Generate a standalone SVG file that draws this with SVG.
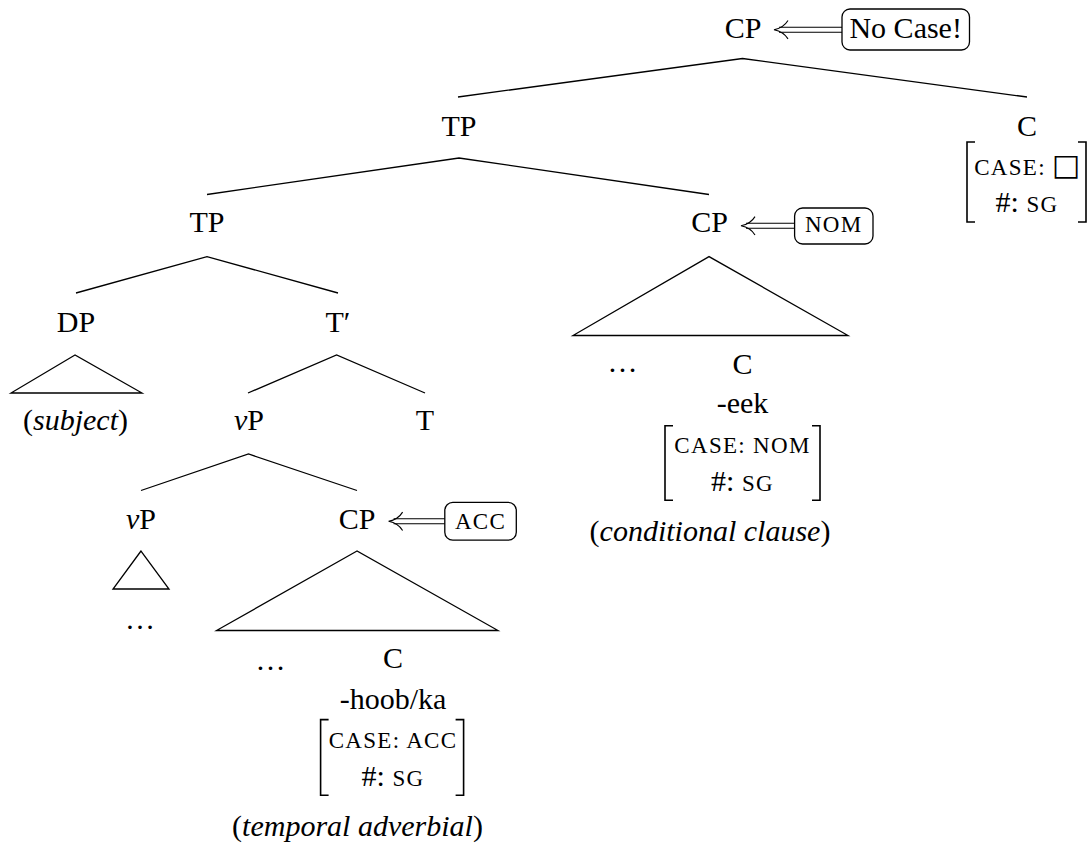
<svg xmlns="http://www.w3.org/2000/svg" width="1088" height="847" viewBox="0 0 1088 847" font-family="Liberation Serif">
<style>
  text { font-size: 30px; fill: #000; text-anchor: middle; }
  .it { font-style: italic; }
  .sc { font-size: 23px; letter-spacing: 1.3px; }
  .edge { stroke: #000; stroke-width: 1.3; fill: none; }
  .tri { stroke: #000; stroke-width: 1.3; fill: none; stroke-linejoin: miter; }
  .brk { stroke: #000; stroke-width: 1.6; fill: none; }
  .box { stroke: #000; stroke-width: 1.3; fill: #fff; }
  .dbl { stroke: #000; stroke-width: 1.1; fill: none; }
</style>
<rect x="0" y="0" width="1088" height="847" fill="#fff"/>

<g id="connectors">
  <polyline class="edge" points="458,97 742.5,58.5 1027,97"/>
  <polyline class="edge" points="207,194.5 459,158 709,194.5"/>
  <polyline class="edge" points="76,293 207,256.6 338,293"/>
  <polyline class="edge" points="248,393 336.6,355 425,393"/>
  <polyline class="edge" points="141,490.5 248.5,454 357,490.5"/>
  <polygon class="tri" points="75,355 11,393 142,393"/>
  <polygon class="tri" points="709,256.6 573,335.5 848,335.5"/>
  <polygon class="tri" points="141,551 113,589 169,589"/>
  <polygon class="tri" points="357,551 216.5,630.5 498,630.5"/>
  <g id="arrow-nocase">
    <path class="dbl" d="M779,27.2 H842 M779,32.2 H842"/>
    <path class="dbl" d="M788,20.5 C785,25.5 780,28.5 774,29.7 C780,30.9 785,33.9 788,38.9"/>
  </g>
  <g id="arrow-nom">
    <path class="dbl" d="M746,223.3 H795 M746,228.3 H795"/>
    <path class="dbl" d="M755,216.6 C752,221.6 747,224.6 741,225.8 C747,227 752,230 755,235"/>
  </g>
  <g id="arrow-acc">
    <path class="dbl" d="M393.6,518.8 H445 M393.6,523.8 H445"/>
    <path class="dbl" d="M402.6,512.1 C399.6,517.1 394.6,520.1 388.6,521.3 C394.6,522.5 399.6,525.5 402.6,530.5"/>
  </g>
</g>

<g id="node-cp-top">
  <text x="743" y="37.5" font-family="Liberation Serif">CP</text>
</g>
<g id="node-nocase">
  <rect class="box" x="842" y="9" width="127.5" height="41" rx="8"/>
  <text x="905.7" y="38" font-family="Liberation Serif">No Case!</text>
</g>
<g id="node-tp1">
  <text x="459" y="135.5" font-family="Liberation Serif">TP</text>
</g>
<g id="node-c-top">
  <text x="1027" y="135.5" font-family="Liberation Serif">C</text>
  <path class="brk" d="M975,142 H967 V222 H975"/>
  <path class="brk" d="M1078,142 H1086 V222 H1078"/>
  <text x="1010" y="174.5" class="sc" font-family="Liberation Serif">CASE:</text>
  <text x="1066" y="174.5" font-family="DejaVu Sans" font-size="26">□</text>
  <text x="1027" y="212.3" font-family="Liberation Serif">#: <tspan class="sc">SG</tspan></text>
</g>
<g id="node-tp2">
  <text x="207" y="232.3" font-family="Liberation Serif">TP</text>
</g>
<g id="node-cp-cond">
  <text x="709.5" y="232.3" font-family="Liberation Serif">CP</text>
</g>
<g id="node-nom">
  <rect class="box" x="794.6" y="208" width="78.4" height="36" rx="8"/>
  <text x="833.7" y="232.3" class="sc" font-family="Liberation Serif">NOM</text>
</g>
<g id="node-dp">
  <text x="76" y="332.2" font-family="Liberation Serif">DP</text>
</g>
<g id="node-tbar">
  <text x="338" y="332.2" font-family="Liberation Serif">T′</text>
</g>
<g id="node-subject">
  <text x="75.5" y="429.5" font-family="Liberation Serif">(<tspan class="it">subject</tspan>)</text>
</g>
<g id="node-vp1">
  <text x="249" y="429.5" font-family="Liberation Serif"><tspan class="it">v</tspan>P</text>
</g>
<g id="node-t">
  <text x="425" y="429.5" font-family="Liberation Serif">T</text>
</g>
<g id="node-cond-contents">
  <text x="622.5" y="372" font-family="Liberation Serif">…</text>
  <text x="742.5" y="373.8" font-family="Liberation Serif">C</text>
  <text x="742.5" y="413.3" font-family="Liberation Serif">-eek</text>
  <path class="brk" d="M673,425.7 H665 V500.3 H673"/>
  <path class="brk" d="M812,425.7 H820 V500.3 H812"/>
  <text x="742.5" y="452.7" class="sc" font-family="Liberation Serif">CASE: NOM</text>
  <text x="742.5" y="490.5" font-family="Liberation Serif">#: <tspan class="sc">SG</tspan></text>
  <text x="710" y="541" font-family="Liberation Serif">(<tspan class="it">conditional clause</tspan>)</text>
</g>
<g id="node-vp2">
  <text x="141" y="529.4" font-family="Liberation Serif"><tspan class="it">v</tspan>P</text>
  <text x="140" y="629.4" font-family="Liberation Serif">…</text>
</g>
<g id="node-cp-temp">
  <text x="357" y="529.4" font-family="Liberation Serif">CP</text>
</g>
<g id="node-acc">
  <rect class="box" x="444.8" y="502.4" width="71.5" height="37.8" rx="8"/>
  <text x="480.5" y="528.5" class="sc" font-family="Liberation Serif">ACC</text>
</g>
<g id="node-temp-contents">
  <text x="270.6" y="670" font-family="Liberation Serif">…</text>
  <text x="393" y="668.3" font-family="Liberation Serif">C</text>
  <text x="393" y="708.8" font-family="Liberation Serif">-hoob/ka</text>
  <path class="brk" d="M328.6,719.6 H320.6 V795.2 H328.6"/>
  <path class="brk" d="M455.6,719.6 H463.6 V795.2 H455.6"/>
  <text x="393" y="748.2" class="sc" font-family="Liberation Serif">CASE: ACC</text>
  <text x="393" y="786" font-family="Liberation Serif">#: <tspan class="sc">SG</tspan></text>
  <text x="357.5" y="836" font-family="Liberation Serif">(<tspan class="it">temporal adverbial</tspan>)</text>
</g>
</svg>
